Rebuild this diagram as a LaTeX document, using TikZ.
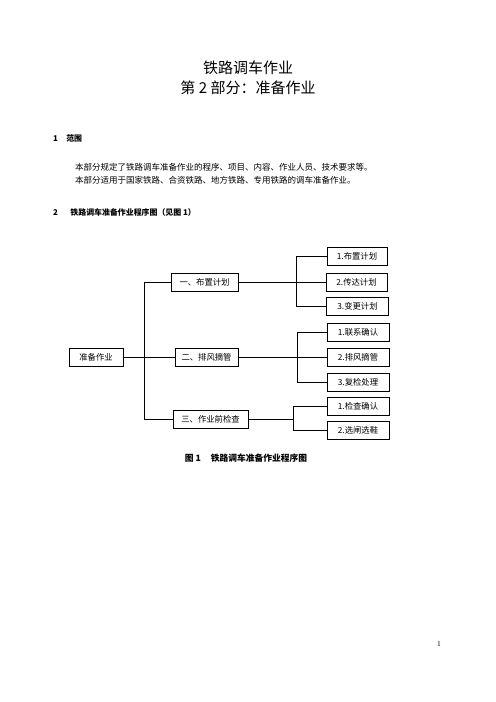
\documentclass[tikz,border=0pt]{standalone}
\usepackage{fontspec}
\setmainfont{Liberation Serif}
\newfontfamily\cjk{Noto Sans CJK SC}
\usetikzlibrary{positioning}

\tikzset{
  box/.style={draw, line width=0.7pt, minimum height=22pt, inner sep=1pt,
    font=\cjk\fontsize{10}{12}\selectfont},
  link/.style={line width=0.7pt},
  txt/.style={inner sep=0pt, font=\cjk\fontsize{10.2}{12}\selectfont}
}

\begin{document}
\begin{tikzpicture}[x=1.2pt, y=-1.2pt]
  \useasboundingbox (0,0) rectangle (496,702);
  % heading
  \node[inner sep=0pt, font=\cjk\fontsize{18}{22}\selectfont] (title) at (248,68) {铁路调车作业};
  \node[inner sep=0pt, font=\cjk\fontsize{18}{22}\selectfont] (part) at (248,88) {第 2 部分：准备作业};
  \node[txt, anchor=west, font=\cjk\bfseries\fontsize{9.5}{11}\selectfont] (s1) at (53,138) {1\hspace{10pt}范围};
  \node[txt, anchor=west] (p1) at (75,167) {本部分规定了铁路调车准备作业的程序、项目、内容、作业人员、技术要求等。};
  \node[txt, anchor=west] (p2) at (75,180) {本部分适用于国家铁路、合资铁路、地方铁路、专用铁路的调车准备作业。};
  \node[txt, anchor=west, font=\cjk\bfseries\fontsize{9.5}{11}\selectfont] (s2) at (53,212) {2\hspace{15pt}铁路调车准备作业程序图（见图 1）};

  % boxes
  \node[box, minimum width=65pt] (zb) at (96,357) {准备作业};
  \node[box, minimum width=80pt] (yi) at (204.5,282.5) {一、布置计划};
  \node[box, minimum width=76pt] (er) at (206.5,357) {二、排风摘管};
  \node[box, minimum width=90pt] (san) at (210.5,419.5) {三、作业前检查};

  \node[box, minimum width=72pt] (b11) at (357,256.5) {1.布置计划};
  \node[box, minimum width=73pt] (b12) at (356.5,282.5) {2.传达计划};
  \node[box, minimum width=75pt] (b13) at (357.5,306.5) {3.变更计划};
  \node[box, minimum width=74pt] (b21) at (358,332) {1.联系确认};
  \node[box, minimum width=74pt] (b22) at (358,357) {2.排风摘管};
  \node[box, minimum width=74pt] (b23) at (358,382.5) {3.复检处理};
  \node[box, minimum width=74pt] (b31) at (358,406.5) {1.检查确认};
  \node[box, minimum width=74pt] (b32) at (358,430.5) {2.选闸选鞋};

  % connectors
  \coordinate (t0) at (144,0);
  \coordinate (t1) at (296,0);
  \coordinate (t2) at (297,0);
  \coordinate (t3) at (293,0);
  \draw[link] (zb.east) -- (er.west);
  \draw[link] (yi.west) -- (yi.west -| t0) |- (san.west);
  \draw[link] (yi.east) -- (b12.west);
  \draw[link] (b11.west) -- (b11.west -| t1) |- (b13.west);
  \draw[link] (er.east) -- (b22.west);
  \draw[link] (b21.west) -- (b21.west -| t2) |- (b23.west);
  \draw[link] (san.east) -- (san.east -| t3);
  \draw[link] (b31.west) -- (b31.west -| t3) |- (b32.west);

  \node[txt, font=\cjk\bfseries\fontsize{10.5}{12}\selectfont] (cap) at (246,458) {图 1\hspace{12pt}铁路调车准备作业程序图};
  \node[inner sep=0pt, font=\fontsize{9}{10}\selectfont] (pg) at (439,644) {1};
\end{tikzpicture}
\end{document}
